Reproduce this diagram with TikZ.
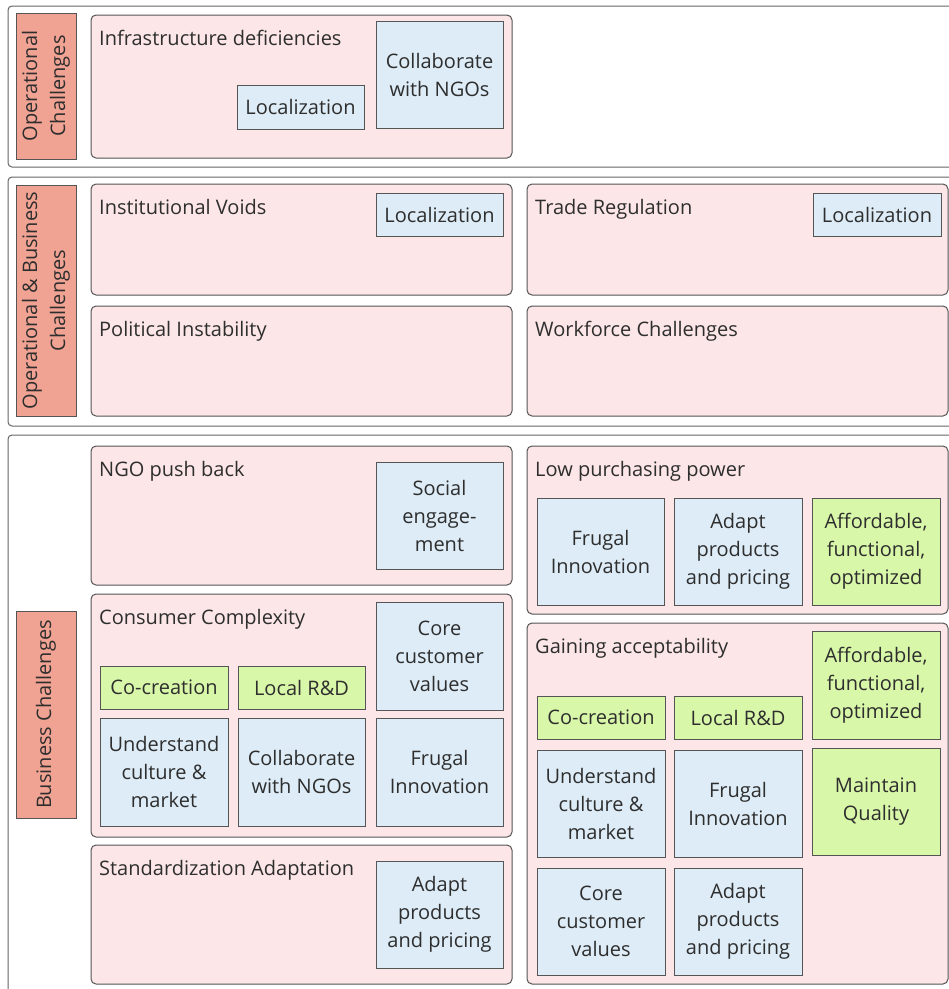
\documentclass[tikz,border=0pt]{standalone}
\usepackage{fontspec}
\setmainfont{Open Sans}
\definecolor{salmonc}{HTML}{F1A393}
\definecolor{pinkc}{HTML}{FCE6E7}
\definecolor{bluec}{HTML}{DDECF6}
\definecolor{greenc}{HTML}{D9F7A9}
\definecolor{linec}{HTML}{555555}
\definecolor{txtc}{HTML}{2E2E2E}
\newcommand\placebox[7]{\node[#1, minimum width={#5-#3}, minimum height={#6-#4}] (#2) at ({(#3+#5)/2},{(#4+#6)/2}) {#7};}
\begin{document}
\begin{tikzpicture}[x=1pt,y=-1pt,
  every node/.style={font=\fontsize{20}{28}\selectfont, text=txtc, inner sep=0pt, align=center},
  cont/.style={draw=linec!90, line width=1pt, rounded corners=4pt, fill=white},
  grp/.style={draw=linec, line width=1pt, fill=salmonc},
  cat/.style={draw=linec, line width=1pt, rounded corners=5pt, fill=pinkc},
  act/.style={draw=linec, line width=1pt, fill=bluec},
  res/.style={draw=linec, line width=1pt, fill=greenc},
  ttl/.style={anchor=base west}]
\useasboundingbox (0,0) rectangle (949,989);
\clip (0,0) rectangle (949,989);
\fill[white] (0,0) rectangle (949,989);
% containers
\placebox{cont}{c1}{8}{6}{975}{167}{}
\placebox{cont}{c2}{8}{177}{975}{426}{}
\placebox{cont}{c3}{8}{435}{975}{1010}{}
% side labels
\node[grp, rotate=90, minimum width=146, minimum height=60] (g1) at (46,86) {Operational\\Challenges};
\node[grp, rotate=90, minimum width=231, minimum height=60] (g2) at (46,300.5) {Operational \& Business\\Challenges};
\node[grp, rotate=90, minimum width=207, minimum height=60] (g3) at (46,714.5) {Business Challenges};
% row 1
\placebox{cat}{p1}{91}{15}{512}{158}{}
\node[ttl] (t1) at (99,45) {Infrastructure deficiencies};
\placebox{act}{a11}{237}{85}{364}{129}{Localization}
\placebox{act}{a12}{376}{21}{503}{128}{Collaborate\\with NGOs}
% row 2
\placebox{cat}{p2}{91}{184}{512}{295}{}
\node[ttl] (t2) at (99,214) {Institutional Voids};
\placebox{act}{a21}{376}{193}{503}{236}{Localization}
\placebox{cat}{p3}{91}{306}{512}{416}{}
\node[ttl] (t3) at (99,336) {Political Instability};
\placebox{cat}{p4}{527}{184}{948}{295}{}
\node[ttl] (t4) at (535,214) {Trade Regulation};
\placebox{act}{a41}{813}{193}{941}{236}{Localization}
\placebox{cat}{p5}{527}{306}{948}{416}{}
\node[ttl] (t5) at (535,336) {Workforce Challenges};
% row 3 left
\placebox{cat}{p6}{91}{446}{512}{585}{}
\node[ttl] (t6) at (99,476) {NGO push back};
\placebox{act}{a61}{376}{462}{503}{569}{Social\\engage-\\ment}
\placebox{cat}{p7}{91}{594}{512}{837}{}
\node[ttl] (t7) at (99,624) {Consumer Complexity};
\placebox{act}{a71}{376}{602}{503}{710}{Core\\customer\\values}
\placebox{res}{a72}{100}{666}{228}{709}{Co-creation}
\placebox{res}{a73}{238}{666}{365}{709}{Local R\&D}
\placebox{act}{a74}{100}{718}{228}{826}{Understand\\culture \&\\market}
\placebox{act}{a75}{238}{718}{365}{826}{Collaborate\\with NGOs}
\placebox{act}{a76}{376}{718}{503}{826}{Frugal\\Innovation}
\placebox{cat}{p8}{91}{845}{512}{984}{}
\node[ttl] (t8) at (99,875) {Standardization Adaptation};
\placebox{act}{a81}{376}{861}{503}{968}{Adapt\\products\\and pricing}
% row 3 right
\placebox{cat}{p9}{527}{446}{948}{614}{}
\node[ttl] (t9) at (535,476) {Low purchasing power};
\placebox{act}{a91}{537}{498}{664}{605}{Frugal\\Innovation}
\placebox{act}{a92}{674}{498}{802}{605}{Adapt\\products\\and pricing}
\placebox{res}{a93}{812}{498}{940}{605}{Affordable,\\functional,\\optimized}
\placebox{cat}{p10}{527}{623}{948}{984}{}
\node[ttl] (t10) at (535,653) {Gaining acceptability};
\placebox{res}{b1}{812}{631}{940}{739}{Affordable,\\functional,\\optimized}
\placebox{res}{b2}{537}{696}{665}{739}{Co-creation}
\placebox{res}{b3}{674}{696}{802}{739}{Local R\&D}
\placebox{act}{b4}{537}{750}{665}{857}{Understand\\culture \&\\market}
\placebox{act}{b5}{674}{750}{802}{857}{Frugal\\Innovation}
\placebox{res}{b6}{812}{748}{940}{855}{Maintain\\Quality}
\placebox{act}{b7}{537}{868}{665}{975}{Core\\customer\\values}
\placebox{act}{b8}{674}{868}{802}{975}{Adapt\\products\\and pricing}
\end{tikzpicture}
\end{document}
